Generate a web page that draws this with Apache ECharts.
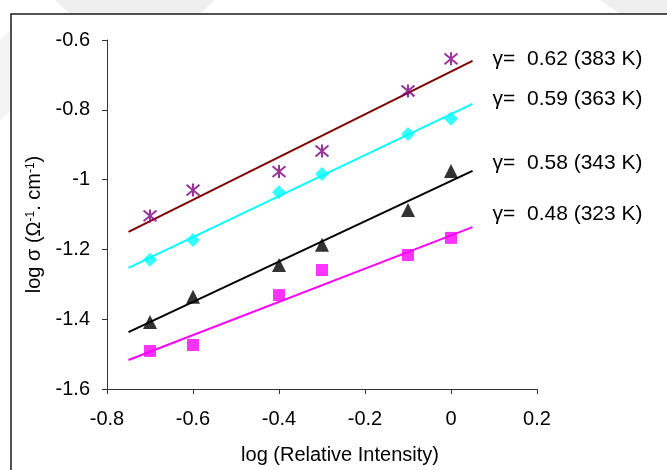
<!DOCTYPE html>
<html>
<head>
<meta charset="utf-8">
<script src="https://cdn.jsdelivr.net/npm/echarts@6/dist/echarts.min.js"></script>
<style>
html,body{margin:0;padding:0;background:#fff;}
#c{width:667px;height:470px;}
</style>
</head>
<body>
<div id="c"></div>
<script>
// Data
const xValues = [-0.7, -0.6, -0.4, -0.3, -0.1, 0];
const s383 = [-1.104, -1.030, -0.977, -0.918, -0.746, -0.654];
const s363 = [-1.230, -1.173, -1.036, -0.984, -0.869, -0.826];
const s343 = [-1.408, -1.336, -1.245, -1.187, -1.087, -0.975];
const s323 = [-1.491, -1.474, -1.331, -1.259, -1.216, -1.167];
// Trend line endpoints
const fitX = [-0.75, 0.05];
const fit383 = [-1.150, -0.660];
const fit363 = [-1.253, -0.783];
const fit343 = [-1.437, -0.975];
const fit323 = [-1.517, -1.136];
const labels = ['γ=  0.62 (383 K)', 'γ=  0.59 (363 K)', 'γ=  0.58 (343 K)', 'γ=  0.48 (323 K)'];
const xTicks = {min: -0.8, max: 0.2, interval: 0.2};
const yTicks = {min: -1.6, max: -0.6, interval: 0.2};

const FONT = "'Liberation Sans', Arial, Helvetica, sans-serif";
const pts = ys => xValues.map((x, i) => [x, ys[i]]);
const lineColors = ['#800000', '#00FFFF', '#000000', '#FF00FF'];
const labelOffsets = [-2, -5, -8, -13];

const fit = (ys, i) => ({
  type: 'line', silent: true, z: 2,
  symbol: 'circle', symbolSize: 0.1, showSymbol: true,
  data: [
    {value: [fitX[0], ys[0]], label: {show: false}},
    {value: [fitX[1], ys[1]], label: {
      show: true, position: 'right', distance: 20, offset: [0, labelOffsets[i]],
      formatter: labels[i], color: '#000', fontSize: 21, fontFamily: FONT
    }}
  ],
  lineStyle: {width: 2, color: lineColors[i]},
  itemStyle: {color: lineColors[i]}
});

const asterisk = 'path://M0,0 L10,10 M10,0 L0,10 M5,-1 L5,11';

const chart = echarts.init(document.getElementById('c'), null, {renderer: 'canvas'});

chart.setOption({
  animation: false,
  backgroundColor: '#fff',
  graphic: [
    {type: 'polygon', z: -10, shape: {points: [[55,0],[215,0],[200,14],[70,14]]}, style: {fill: '#efefef'}},
    {type: 'polygon', z: -10, shape: {points: [[600,0],[667,0],[667,14],[620,14]]}, style: {fill: '#efefef'}},
    {type: 'polygon', z: -10, shape: {points: [[0,40],[11,30],[11,110],[0,120]]}, style: {fill: '#f4f4f4'}},
    {type: 'rect', z: -5, shape: {x: 11, y: 14, width: 700, height: 500}, style: {fill: '#fff', stroke: '#1a1a1a', lineWidth: 1.5}}
  ],
  grid: {left: 107, right: 130, top: 40, bottom: 81, containLabel: false},
  xAxis: {
    type: 'value', min: xTicks.min, max: xTicks.max, interval: xTicks.interval,
    name: 'log (Relative Intensity)', nameLocation: 'middle', nameGap: 56,
    nameTextStyle: {color: '#000', fontSize: 20, fontFamily: FONT, padding: [0, 0, 0, 36]},
    axisLine: {onZero: false, lineStyle: {color: '#333', width: 1}},
    axisTick: {show: true, length: 5, lineStyle: {color: '#333'}},
    axisLabel: {color: '#000', fontSize: 20, fontFamily: FONT, margin: 20,
      formatter: v => String(+v.toFixed(1))},
    splitLine: {show: false}
  },
  yAxis: {
    type: 'value', min: yTicks.min, max: yTicks.max, interval: yTicks.interval,
    name: 'log σ (Ω{s|-1}. cm{s|-1})', nameLocation: 'middle', nameGap: 62, nameRotate: 90,
    nameTextStyle: {color: '#000', fontSize: 20, fontFamily: FONT, padding: [0, 20, 0, 0],
      rich: {s: {fontSize: 12, fontFamily: FONT, color: '#000', verticalAlign: 'top', padding: [0, 0, 8, 0]}}},
    axisLine: {onZero: false, lineStyle: {color: '#333', width: 1}},
    axisTick: {show: true, length: 5, lineStyle: {color: '#333'}},
    axisLabel: {color: '#000', fontSize: 20, fontFamily: FONT, margin: 17,
      formatter: v => String(+v.toFixed(1))},
    splitLine: {show: false}
  },
  series: [
    fit(fit383, 0), fit(fit363, 1), fit(fit343, 2), fit(fit323, 3),
    {type: 'scatter', data: pts(s383), symbol: asterisk, symbolSize: 13, z: 3,
      itemStyle: {color: 'rgba(0,0,0,0)', borderColor: '#800080', borderWidth: 2}},
    {type: 'scatter', data: pts(s363), symbol: 'diamond', symbolSize: 14, z: 3, itemStyle: {color: '#00FFFF'}},
    {type: 'scatter', data: pts(s343), symbol: 'triangle', symbolSize: 14, z: 3, itemStyle: {color: '#000'}},
    {type: 'scatter', data: pts(s323), symbol: 'rect', symbolSize: 12, z: 3, itemStyle: {color: '#FF00FF'}}
  ]
});
</script>
</body>
</html>
